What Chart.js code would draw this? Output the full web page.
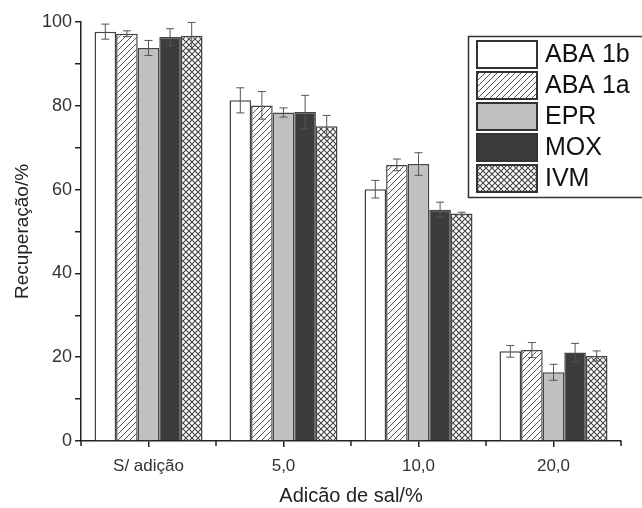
<!DOCTYPE html>
<html>
<head>
<meta charset="utf-8">
<script src="https://cdn.jsdelivr.net/npm/chart.js@4/dist/chart.umd.min.js"></script>
<style>
  html, body { margin: 0; padding: 0; background: #fff; }
  #wrap { width: 642px; height: 508px; }
</style>
</head>
<body>
<div id="wrap"><canvas id="chart" width="642" height="508"></canvas></div>
<script>
// Données
const categories = ['S/ adição', '5,0', '10,0', '20,0'];
const seriesNames = ['ABA 1b', 'ABA 1a', 'EPR', 'MOX', 'IVM'];
const aba1b = [97.7, 81.3, 60.1, 21.4];
const aba1a = [97.2, 80.1, 65.9, 21.7];
const epr   = [93.8, 78.4, 66.1, 16.4];
const mox   = [96.4, 78.5, 55.2, 21.1];
const ivm   = [96.7, 75.1, 54.3, 20.3];
const aba1bErr = [1.8, 3.0, 2.1, 1.4];
const aba1aErr = [0.7, 3.3, 1.4, 1.8];
const eprErr   = [1.8, 1.1, 2.7, 1.9];
const moxErr   = [2.0, 4.0, 1.8, 2.2];
const ivmErr   = [3.2, 2.6, 0.3, 1.2];

// Motifs de remplissage
function hatchPattern() {
    const c = document.createElement('canvas');
    c.width = 6; c.height = 6;
    const g = c.getContext('2d');
    g.fillStyle = '#fff';
    g.fillRect(0, 0, 6, 6);
    g.strokeStyle = '#555';
    g.lineWidth = 1;
    g.beginPath();
    g.moveTo(-1, 7); g.lineTo(7, -1);
    g.moveTo(-1, 1); g.lineTo(1, -1);
    g.moveTo(5, 7); g.lineTo(7, 5);
    g.stroke();
    return g.createPattern(c, 'repeat');
}

function crossPattern() {
    const c = document.createElement('canvas');
    c.width = 6; c.height = 6;
    const g = c.getContext('2d');
    g.fillStyle = '#fff';
    g.fillRect(0, 0, 6, 6);
    g.strokeStyle = '#444';
    g.lineWidth = 1.1;
    g.beginPath();
    g.moveTo(0, 0); g.lineTo(6, 6);
    g.moveTo(6, 0); g.lineTo(0, 6);
    g.stroke();
    return g.createPattern(c, 'repeat');
}

const values = [aba1b, aba1a, epr, mox, ivm];
const errors = [aba1bErr, aba1aErr, eprErr, moxErr, ivmErr];
const fills = ['#ffffff', hatchPattern(), '#c0c0c0', '#3c3c3c', crossPattern()];

// Barres d'erreur dessinées avec les échelles du graphique
const errorBars = {
    id: 'errorBars',
    afterDatasetsDraw(chart) {
        const ctx = chart.ctx;
        const y = chart.scales.y;
        ctx.save();
        ctx.strokeStyle = '#555';
        ctx.lineWidth = 1;
        chart.data.datasets.forEach((ds, i) => {
            const meta = chart.getDatasetMeta(i);
            meta.data.forEach((bar, j) => {
                const v = ds.data[j];
                const e = errors[i][j];
                const top = y.getPixelForValue(v + e);
                const bot = y.getPixelForValue(v - e);
                ctx.beginPath();
                ctx.moveTo(bar.x, top); ctx.lineTo(bar.x, bot);
                ctx.moveTo(bar.x - 4, top); ctx.lineTo(bar.x + 4, top);
                ctx.moveTo(bar.x - 4, bot); ctx.lineTo(bar.x + 4, bot);
                ctx.stroke();
            });
        });
        ctx.restore();
    }
};

// Petites graduations entre les catégories
const minorTicks = {
    id: 'minorTicks',
    afterDraw(chart) {
        const ctx = chart.ctx;
        const x = chart.scales.x;
        const yb = chart.chartArea.bottom;
        ctx.save();
        ctx.strokeStyle = '#222';
        ctx.lineWidth = 1.5;
        for (let i = 0; i <= categories.length; i++) {
            const px = x.getPixelForValue(i - 0.5);
            ctx.beginPath();
            ctx.moveTo(px, yb); ctx.lineTo(px, yb + 5);
            ctx.stroke();
        }
        ctx.restore();
    }
};

// Légende encadrée dans la zone du graphique
const boxLegend = {
    id: 'boxLegend',
    afterDraw(chart) {
        const ctx = chart.ctx;
        ctx.save();
        ctx.strokeStyle = '#333';
        ctx.lineWidth = 1.5;
        ctx.strokeRect(468.5, 36.5, 200, 161);
        chart.data.datasets.forEach((ds, i) => {
            const top = 41 + i * 31;
            ctx.fillStyle = ds.backgroundColor;
            ctx.fillRect(477, top, 60, 27);
            ctx.lineWidth = 2;
            ctx.strokeStyle = '#333';
            ctx.strokeRect(477, top, 60, 27);
            ctx.fillStyle = '#111';
            ctx.font = '25px "Liberation Sans", Arial, sans-serif';
            ctx.textBaseline = 'middle';
            ctx.fillText(ds.label, 545, top + 14);
        });
        ctx.restore();
    }
};

const datasets = seriesNames.map((name, i) => ({
    label: name,
    data: values[i],
    backgroundColor: fills[i],
    borderColor: '#444',
    borderWidth: 1.5,
    categoryPercentage: 0.8,
    barPercentage: 1.0
}));

new Chart(document.getElementById('chart').getContext('2d'), {
    type: 'bar',
    data: { labels: categories, datasets: datasets },
    options: {
        responsive: false,
        animation: false,
        layout: { padding: { top: 22, right: 21, left: 0, bottom: 0 } },
        plugins: { legend: { display: false }, tooltip: { enabled: false } },
        scales: {
            x: {
                grid: { offset: false, drawOnChartArea: false, tickLength: 6, color: '#222', lineWidth: 1.5 },
                border: { color: '#222', width: 1.5 },
                ticks: { color: '#333', padding: 9, font: { family: 'Liberation Sans', size: 17 } },
                title: { display: true, text: 'Adicão de sal/%', color: '#222', padding: { top: 2, bottom: 0 },
                         font: { family: 'Liberation Sans', size: 20 } },
                afterFit(scale) { scale.height = 67; }
            },
            y: {
                min: 0,
                max: 100,
                grid: { drawOnChartArea: false, tickLength: 6, color: '#222', lineWidth: 1.5 },
                border: { color: '#222', width: 1.5 },
                ticks: {
                    stepSize: 10,
                    color: '#333',
                    padding: 3,
                    font: { family: 'Liberation Sans', size: 18 },
                    callback: v => (v % 20 === 0 ? v : '')
                },
                title: { display: true, text: 'Recuperação/%', color: '#222', padding: { top: 11, bottom: 0 },
                         font: { family: 'Liberation Sans', size: 19 } },
                afterFit(scale) { scale.width = 81; }
            }
        }
    },
    plugins: [errorBars, minorTicks, boxLegend]
});
</script>
</body>
</html>
